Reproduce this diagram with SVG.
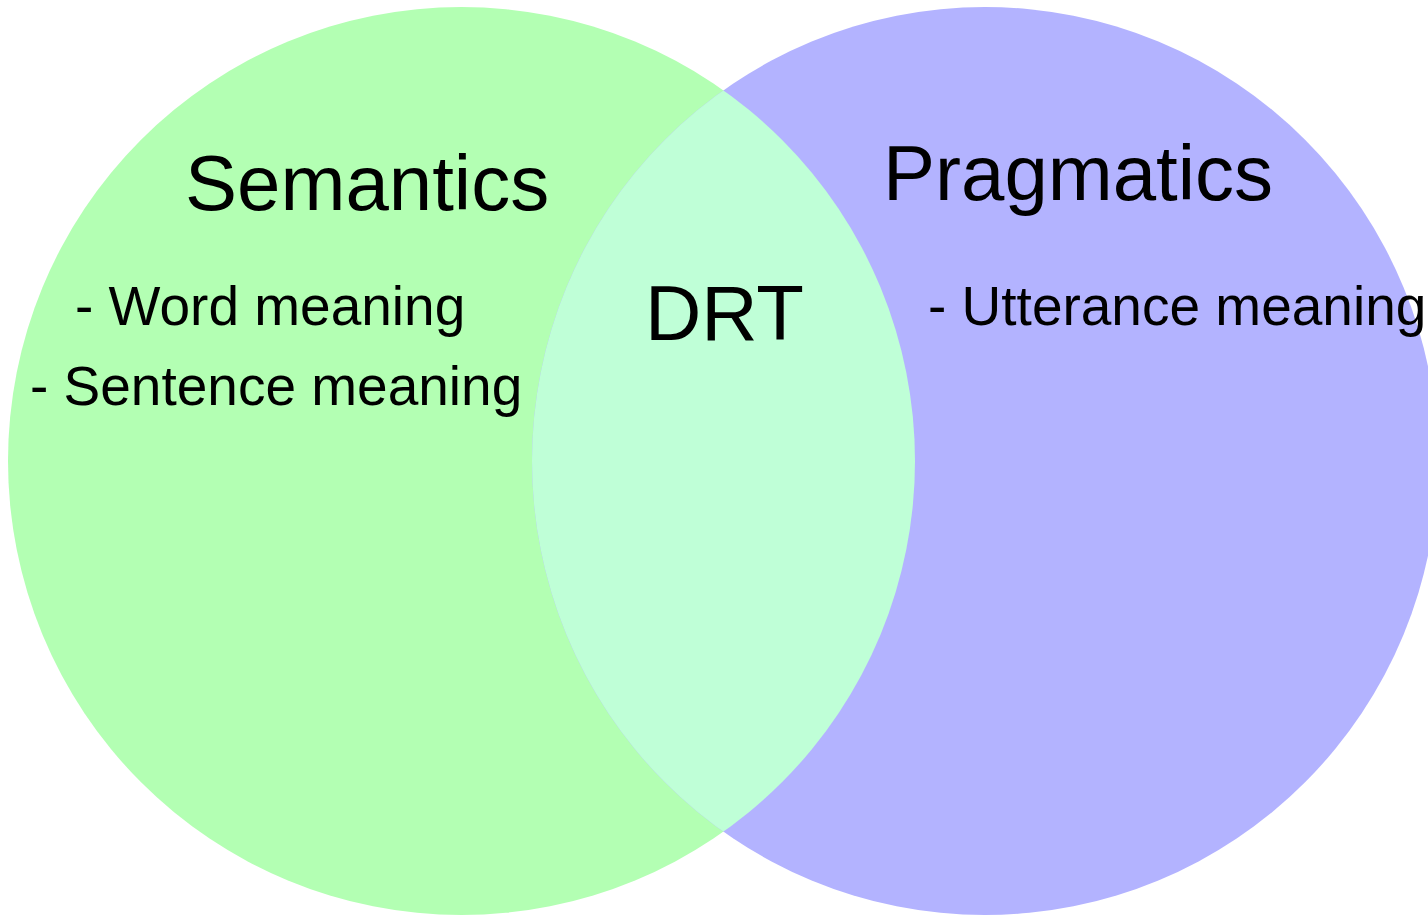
<svg xmlns="http://www.w3.org/2000/svg" width="1428" height="915" viewBox="0 0 1428 915">
<style>
text{font-family:"Liberation Sans",Arial,sans-serif;fill:#000}
.big{font-size:78px}
.small{font-size:55px}
</style>
<defs>
<clipPath id="leftClip"><ellipse cx="461.5" cy="461" rx="453.5" ry="454"/></clipPath>
</defs>
<rect width="1428" height="915" fill="#fff"/>
<g id="semantics">
<ellipse cx="461.5" cy="461" rx="453.5" ry="454" fill="#b3ffb3"/>
</g>
<g id="pragmatics">
<ellipse cx="985" cy="461" rx="453" ry="454" fill="#b3b3ff"/>
</g>
<g id="drt">
<ellipse cx="985" cy="461" rx="453" ry="454" fill="#bfffd7" clip-path="url(#leftClip)"/>
</g>
<g id="labels">
<text class="big" x="185" y="210">Semantics</text>
<text class="big" x="883" y="200">Pragmatics</text>
<text class="big" x="645" y="340">DRT</text>
<text class="small" x="75" y="325">- Word meaning</text>
<text class="small" x="30" y="405">- Sentence meaning</text>
<text class="small" x="928" y="325">- Utterance meaning</text>
</g>
</svg>
